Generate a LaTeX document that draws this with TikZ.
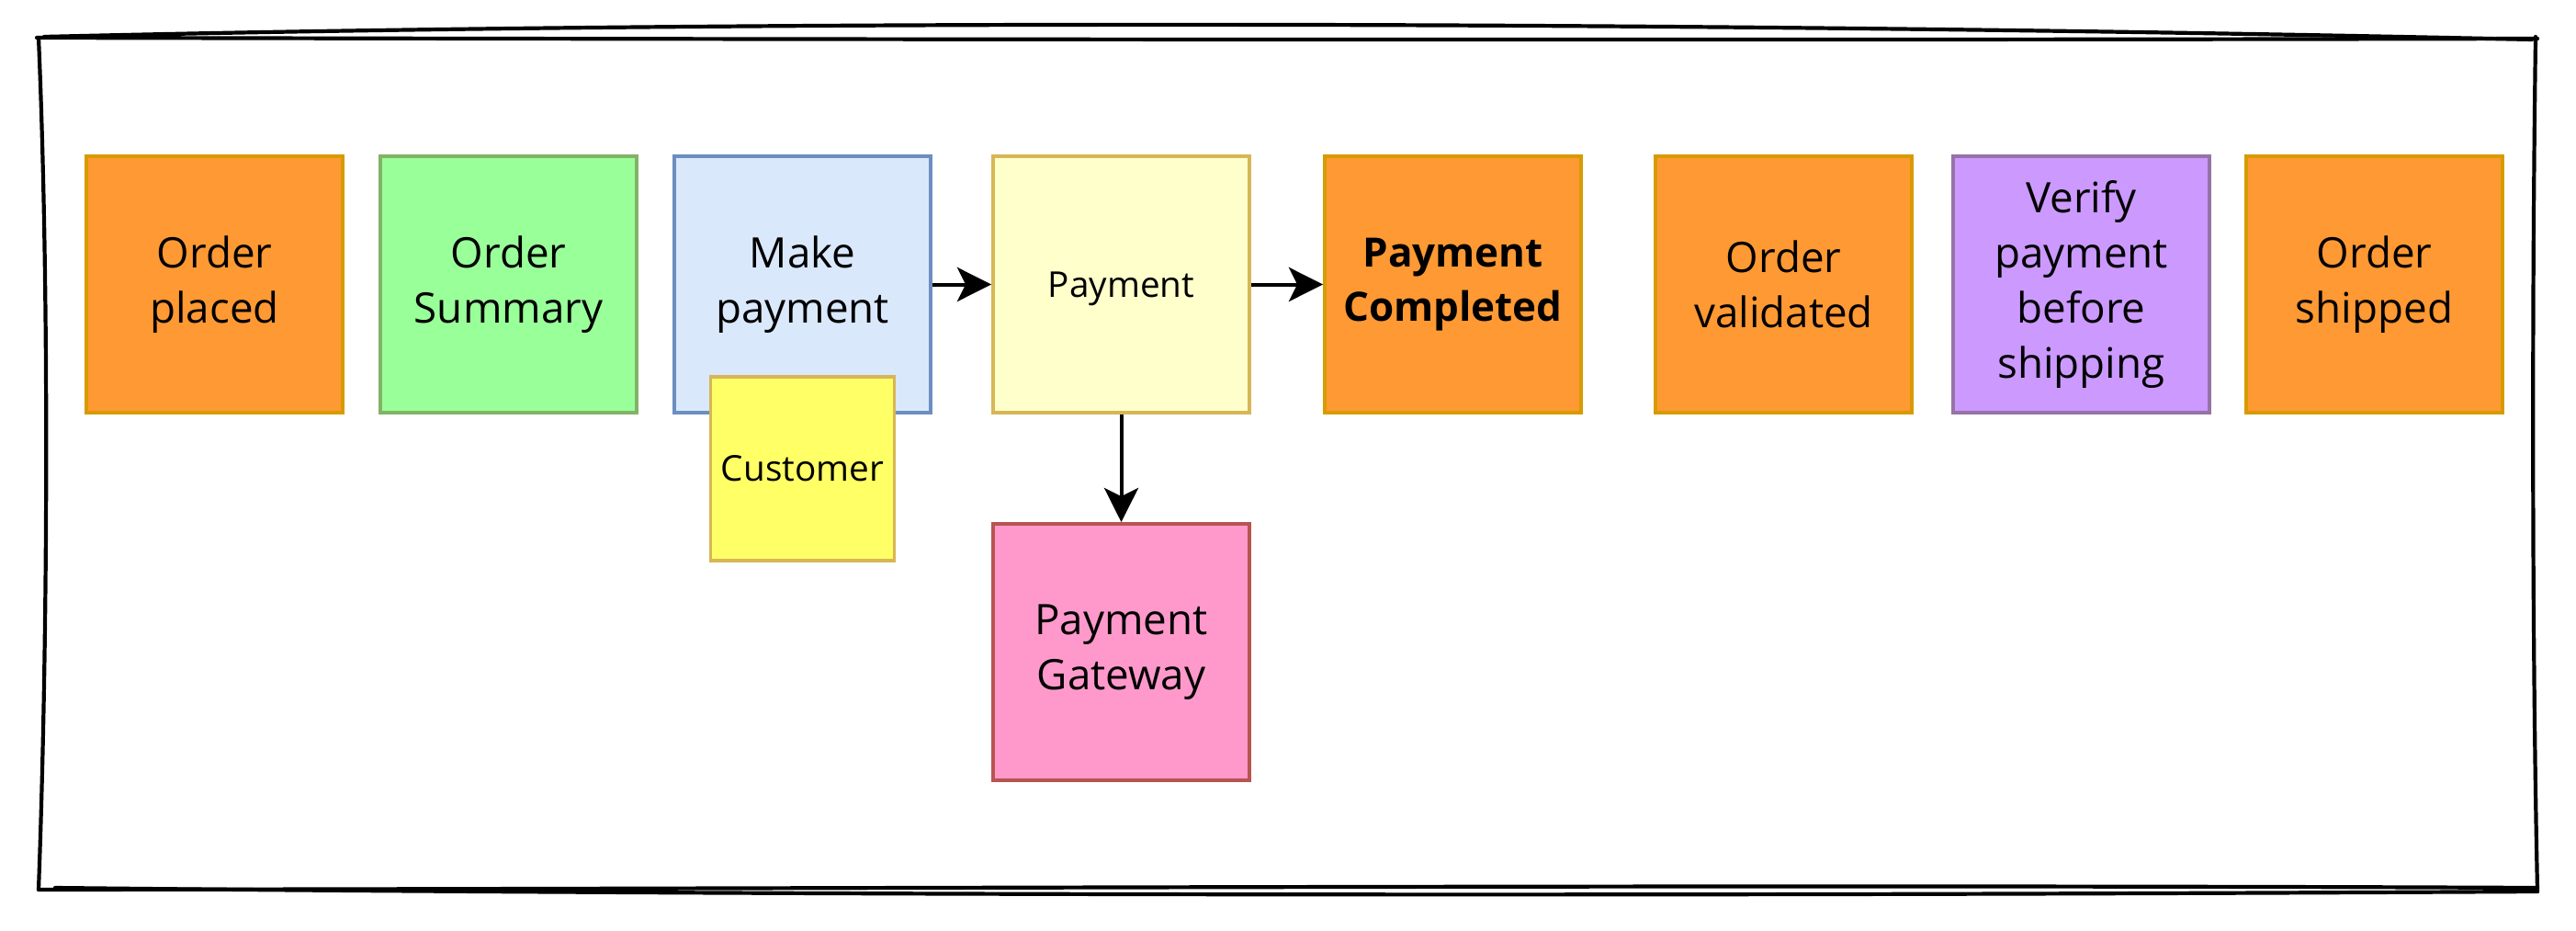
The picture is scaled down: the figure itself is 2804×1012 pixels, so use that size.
\documentclass[tikz,border=0pt]{standalone}
\usepackage{fontspec}
\setmainfont{Open Sans}
\usetikzlibrary{arrows.meta}
\definecolor{orfill}{HTML}{FF9933}
\definecolor{orline}{HTML}{D79B00}
\definecolor{grfill}{HTML}{99FF99}
\definecolor{grline}{HTML}{82B366}
\definecolor{blfill}{HTML}{DAE8FC}
\definecolor{blline}{HTML}{6C8EBF}
\definecolor{ylfill}{HTML}{FFFFCC}
\definecolor{ylline}{HTML}{D6B656}
\definecolor{cufill}{HTML}{FFFF66}
\definecolor{pkfill}{HTML}{FF99CC}
\definecolor{pkline}{HTML}{B85450}
\definecolor{pufill}{HTML}{CC99FF}
\definecolor{puline}{HTML}{9673A6}
\tikzset{
  card/.style={draw, line width=0.038cm, minimum width=2.79cm, minimum height=2.79cm,
    align=center, inner sep=0pt, font=\fontsize{13}{17}\selectfont},
  smallcard/.style={card, minimum width=2.0cm, minimum height=2.0cm, font=\fontsize{11}{14}\selectfont},
  orangecard/.style={card, fill=orfill, draw=orline},
  flow/.style={line width=0.04cm, -{Stealth[length=0.37cm, width=0.37cm, inset=0.09cm]}},
  sketch/.style={line width=0.042cm, line cap=round, line join=round}
}
\begin{document}
\begin{tikzpicture}[x=0.01cm, y=-0.01cm]
\useasboundingbox (0,0) rectangle (2804,1012);
% sketchy frame
\draw[sketch] (40,41) .. controls (900,43) and (1900,44) .. (2762,42);
\draw[sketch] (48,40) .. controls (800,22) and (1800,22) .. (2756,43);
\draw[sketch] (42,41) .. controls (54,320) and (52,700) .. (42,968);
\draw[sketch] (42,968) .. controls (900,967) and (1900,962) .. (2762,966);
\draw[sketch] (60,966) .. controls (900,975) and (1900,975) .. (2762,970);
\draw[sketch] (2760,40) .. controls (2756,320) and (2756,700) .. (2762,970);
% cards
\node[orangecard] (op) at (233.5,309.5) {Order\\placed};
\node[card, fill=grfill, draw=grline] (os) at (553.5,309.5) {Order\\Summary};
\node[card, fill=blfill, draw=blline] (mp) at (873.5,309.5) {Make\\payment};
\node[smallcard, fill=cufill, draw=ylline] (cu) at (873.5,510) {Customer};
\node[card, fill=ylfill, draw=ylline, font=\fontsize{11}{14}\selectfont, text depth=0pt] (pay) at (1220.5,309.5) {Payment};
\node[orangecard, font=\fontsize{12.5}{17}\selectfont\bfseries] (pc) at (1581.5,309.5) {Payment\\Completed};
\node[orangecard] (ov) at (1941.5,309.5) {Order\\validated};
\node[card, fill=pufill, draw=puline] (vf) at (2265.5,309.5) {Verify\\payment\\before\\shipping};
\node[orangecard] (sh) at (2584.5,309.5) {Order\\shipped};
\node[card, fill=pkfill, draw=pkline] (pg) at (1220.5,709.5) {Payment\\Gateway};
% connectors
\draw[flow] (mp) -- (pay);
\draw[flow] (pay) -- (pc);
\draw[flow] (pay) -- (pg);
\end{tikzpicture}
\end{document}
